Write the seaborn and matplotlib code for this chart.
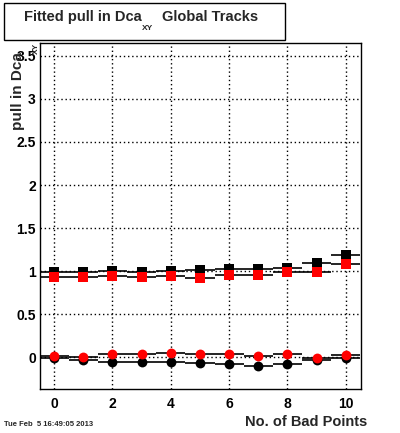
import numpy as np
import pandas as pd
import matplotlib
matplotlib.use("Agg")
import matplotlib.pyplot as plt
from matplotlib.ticker import MultipleLocator
from matplotlib.patches import Rectangle
import seaborn as sns

bad_points = [0, 1, 2, 3, 4, 5, 6, 7, 8, 9, 10]
sigma_black = [0.99, 0.99, 1.00, 0.99, 1.00, 1.01, 1.02, 1.02, 1.04, 1.09, 1.19]
sigma_red = [0.93, 0.93, 0.945, 0.93, 0.945, 0.915, 0.95, 0.95, 0.985, 0.985, 1.08]
mean_black = [-0.01, -0.03, -0.055, -0.06, -0.06, -0.07, -0.08, -0.105, -0.08, -0.035, -0.015]
mean_red = [0.01, 0.005, 0.035, 0.035, 0.05, 0.035, 0.035, 0.01, 0.035, -0.005, 0.03]

sns.set_style("white")
plt.rcParams['font.family'] = ['Liberation Sans', 'DejaVu Sans']
plt.rcParams['font.weight'] = 'bold'

fig = plt.figure(figsize=(4.0, 4.33), dpi=100)
ax = fig.add_axes([0.1, 0.1016, 0.8025, 0.7991])

series = [
    ("sigma_black", sigma_black, "black", "s", 62),
    ("sigma_red", sigma_red, "red", "s", 62),
    ("mean_black", mean_black, "black", "o", 50),
    ("mean_red", mean_red, "red", "o", 50),
]
rows = []
for name, vals, col, mk, sz in series:
    for x, v in zip(bad_points, vals):
        rows.append({"x": x, "y": v, "series": name})
df = pd.DataFrame(rows)

for name, vals, col, mk, sz in series:
    ax.errorbar(bad_points, vals, xerr=0.5, fmt="none", ecolor="black",
                elinewidth=1.2, capsize=0, zorder=2)
for name, vals, col, mk, sz in series:
    sub = df[df["series"] == name]
    sns.scatterplot(data=sub, x="x", y="y", ax=ax, color=col, marker=mk,
                    s=sz, linewidth=0, zorder=3, legend=False)

ax.set_xlim(-0.48, 10.52)
ax.set_ylim(-0.37, 3.65)
ax.xaxis.set_major_locator(MultipleLocator(2))
ax.xaxis.set_minor_locator(MultipleLocator(0.5))
ax.yaxis.set_major_locator(MultipleLocator(0.5))
ax.yaxis.set_minor_locator(MultipleLocator(0.1))
ax.set_yticks([0, 0.5, 1, 1.5, 2, 2.5, 3, 3.5])
ax.set_yticklabels(["0", "0.5", "1", "1.5", "2", "2.5", "3", "3.5"])
ax.tick_params(axis="both", which="major", direction="in", length=9, width=1,
               labelsize=10, colors="black", top=False, right=False)
ax.tick_params(axis="both", which="minor", direction="in", length=5, width=1,
               top=False, right=False)
ax.tick_params(axis="x", pad=6)
ax.tick_params(axis="y", pad=3)
for lab in ax.get_xticklabels() + ax.get_yticklabels():
    lab.set_fontweight("bold")
ax.grid(True, which="major", linestyle=(0, (1, 2)), color="black", linewidth=1)
for sp in ax.spines.values():
    sp.set_color("black")
    sp.set_linewidth(1)
ax.set_xlabel("")
ax.set_ylabel("")

# Axis titles
fig.text(367/400, 1 - 422/433, "No. of Bad Points", ha="right", va="center",
         fontsize=10.5, fontweight="bold")
fig.text(18/400, 1 - 52/433, "pull in Dca", rotation=90, ha="center", va="top",
         fontsize=11, fontweight="bold")
fig.text(36/400, 1 - 43/433, "XY", rotation=90, ha="center", va="top",
         fontsize=6, fontweight="bold")

# Title box
fig.patches.append(Rectangle((4/400, 1 - 40/433), 281/400, 37/433,
                             transform=fig.transFigure, fill=False,
                             edgecolor="black", linewidth=1))
fig.text(24/400, 1 - 17/433, "Fitted pull in Dca", ha="left", va="center",
         fontsize=10.5, fontweight="bold")
fig.text(142/400, 1 - 29/433, "XY", ha="left", va="center",
         fontsize=6, fontweight="bold")
fig.text(162/400, 1 - 17/433, "Global Tracks", ha="left", va="center",
         fontsize=10.5, fontweight="bold")

fig.text(4/400, 1 - 424/433, "Tue Feb  5 16:49:05 2013", ha="left", va="center",
         fontsize=5.5, fontweight="bold")

fig.savefig("out.png", dpi=100, facecolor="white")
